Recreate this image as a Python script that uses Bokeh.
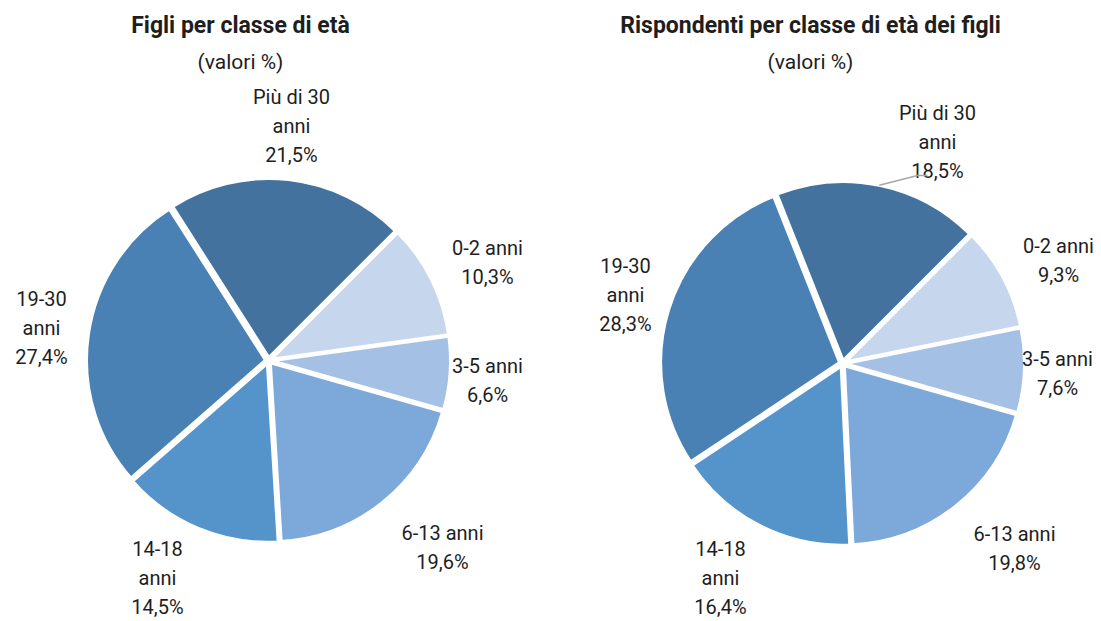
import math
from bokeh.plotting import figure
from bokeh.models import Range1d
from bokeh.embed import file_html
from bokeh.resources import INLINE
from bokeh.core.properties import value

# ---- data ----
categories = ["0-2 anni", "3-5 anni", "6-13 anni", "14-18 anni", "19-30 anni", "Più di 30 anni"]
figli_values = [10.3, 6.6, 19.6, 14.5, 27.4, 21.5]
rispondenti_values = [9.3, 7.6, 19.8, 16.4, 28.3, 18.5]
titles = ["Figli per classe di età", "Rispondenti per classe di età dei figli"]
subtitle = "(valori %)"

# ---- style / layout ----
colors = ["#C6D6EC", "#A4C0E4", "#7CA9DA", "#5593CB", "#4A81B5", "#44729F"]
FONT = "Roboto"
TXT = "#1E1E1E"
W, H = 1101, 621
LINE_H = 29.0

# label layout: (x centre, y of first line, wrap label before "anni")
left_layout = [(487, 247, False), (487, 365, False), (442, 532, False),
               (157, 548, True), (41, 298, True), (291, 96, True)]
right_layout = [(1058, 245, False), (1057, 358, False), (1014, 533, False),
                (720, 548, True), (625, 265, True), (937, 112, True)]
pies = [
    dict(values=figli_values, cx=268, cy=360, title=titles[0], tx=240, layout=left_layout, leader=None),
    dict(values=rispondenti_values, cx=842, cy=363, title=titles[1], tx=810, layout=right_layout,
         leader=[(917, 175), (927, 175)]),
]
R = 179
EXPLODE = 3
START = 45.0

p = figure(width=W, height=H, output_backend="svg", toolbar_location=None,
           x_range=Range1d(0, W), y_range=Range1d(-H, 0),
           min_border=0, outline_line_color=None)
p.axis.visible = False
p.grid.visible = False
p.background_fill_color = "white"
p.border_fill_color = "white"


def fmt(v):
    return f"{v:.1f}".replace(".", ",") + "%"


for pie in pies:
    vals = pie["values"]
    tot = sum(vals)
    cum = 0.0
    mids = []
    for i, v in enumerate(vals):
        a0 = START - cum / tot * 360.0
        cum += v
        a1 = START - cum / tot * 360.0
        mid = math.radians((a0 + a1) / 2)
        mids.append(mid)
        cx = pie["cx"] + EXPLODE * math.cos(mid)
        cy = -pie["cy"] + EXPLODE * math.sin(mid)
        p.wedge(x=[cx], y=[cy], radius=R, radius_units="screen",
                start_angle=math.radians(a1), end_angle=math.radians(a0),
                fill_color=colors[i], line_color="white", line_width=3)

    # title
    p.text(x=[pie["tx"]], y=[-25], text=[pie["title"]], text_font=value(FONT),
           text_font_size="23px", text_font_style="bold", text_color=TXT,
           text_align="center", text_baseline="middle")
    p.text(x=[pie["tx"]], y=[-61], text=[subtitle], text_font=value(FONT),
           text_font_size="21px", text_color=TXT,
           text_align="center", text_baseline="middle")

    # labels
    for i, (cat, v) in enumerate(zip(categories, vals)):
        lx, ly, wrap = pie["layout"][i]
        if wrap:
            lines = [cat.replace(" anni", ""), "anni", fmt(v)]
        else:
            lines = [cat, fmt(v)]
        for k, t in enumerate(lines):
            p.text(x=[lx], y=[-(ly + k * LINE_H)], text=[t], text_font=value(FONT),
                   text_font_size="20px", text_color=TXT,
                   text_align="center", text_baseline="middle")

    if pie["leader"]:
        mid = mids[-1]
        sx = pie["cx"] + (R + EXPLODE) * math.cos(mid)
        sy = pie["cy"] - (R + EXPLODE) * math.sin(mid)
        xs = [sx] + [pt[0] for pt in pie["leader"]]
        ys = [-sy] + [-pt[1] for pt in pie["leader"]]
        p.line(xs, ys, line_color="#A6A6A6", line_width=1.5)

open("out.html", "w").write(file_html(p, INLINE))
